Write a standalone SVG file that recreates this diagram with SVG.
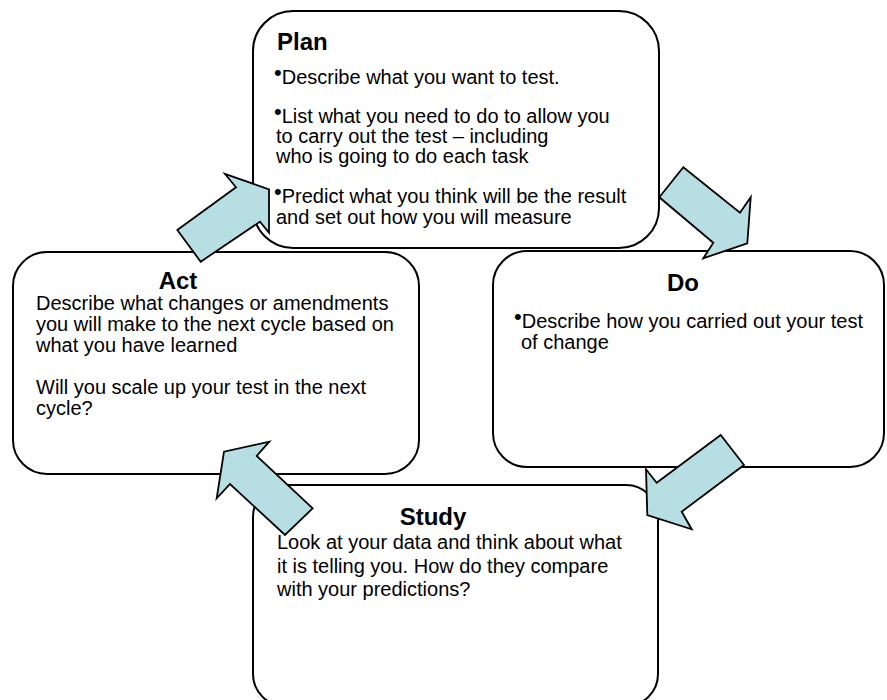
<svg xmlns="http://www.w3.org/2000/svg" width="887" height="700" viewBox="0 0 887 700">
  <style>
    .box { fill: #ffffff; stroke: #000000; stroke-width: 2; }
    .title { font-family: "Liberation Sans", Arial, sans-serif; font-size: 24px; font-weight: bold; fill: #000000; }
    .body { font-family: "Liberation Sans", Arial, sans-serif; font-size: 20px; fill: #000000; }
    .bul { font-size: 22px; }
    .arrow { fill: #b7dee2; stroke: #000000; stroke-width: 1.8; stroke-linejoin: miter; }
  </style>

  <rect width="887" height="700" fill="#ffffff"/>

  <!-- Plan -->
  <g id="plan">
    <rect class="box" x="253" y="11" width="406" height="237" rx="40" ry="40"/>
    <text class="title" x="277" y="50">Plan</text>
    <text class="body" x="274" y="84"><tspan class="bul" dy="-4">•</tspan><tspan dy="4">Describe what you want to test.</tspan></text>
    <text class="body" x="274" y="123"><tspan class="bul" dy="-4">•</tspan><tspan dy="4">List what you need to do to allow you</tspan></text>
    <text class="body" x="276" y="143">to carry out the test – including</text>
    <text class="body" x="276" y="163">who is going to do each task</text>
    <text class="body" x="274" y="203"><tspan class="bul" dy="-4">•</tspan><tspan dy="4">Predict what you think will be the result</tspan></text>
    <text class="body" x="276" y="224">and set out how you will measure</text>
  </g>

  <!-- Act -->
  <g id="act">
    <rect class="box" x="13" y="252" width="406" height="222" rx="34" ry="34"/>
    <text class="title" x="178" y="289" text-anchor="middle">Act</text>
    <text class="body" x="36" y="310">Describe what changes or amendments</text>
    <text class="body" x="36" y="331">you will make to the next cycle based on</text>
    <text class="body" x="36" y="352">what you have learned</text>
    <text class="body" x="36" y="394">Will you scale up your test in the next</text>
    <text class="body" x="36" y="415">cycle?</text>
  </g>

  <!-- Do -->
  <g id="do">
    <rect class="box" x="493" y="251" width="391" height="216" rx="34" ry="34"/>
    <text class="title" x="683" y="291" text-anchor="middle">Do</text>
    <text class="body" x="514" y="328"><tspan class="bul" dy="-4">•</tspan><tspan dy="4">Describe how you carried out your test</tspan></text>
    <text class="body" x="521" y="349">of change</text>
  </g>

  <!-- Study -->
  <g id="study">
    <rect class="box" x="253" y="485" width="405" height="221" rx="32" ry="32"/>
    <text class="title" x="433" y="525" text-anchor="middle">Study</text>
    <text class="body" x="277" y="549">Look at your data and think about what</text>
    <text class="body" x="277" y="573">it is telling you. How do they compare</text>
    <text class="body" x="277" y="596">with your predictions?</text>
  </g>

  <!-- Block arrows linking the stages of the cycle -->
  <g id="connectors">
    <polygon class="arrow" points="177.3,230 236,187.3 225,174 269,189.3 269,232.7 260,221.7 200.7,261.7"/>
    <polygon class="arrow" points="683.3,167.3 740,212.7 750.7,197.3 747.3,243.3 703.3,258.3 713.3,242.7 659.3,197.3"/>
    <polygon class="arrow" points="720.7,435 656.7,482.7 646,469.3 647.3,515 691.7,529.3 681.7,511.7 744,465"/>
    <polygon class="arrow" points="312.7,508.3 256.7,456 269.3,441.7 224,451.7 216.7,498.3 230,484 285,535"/>
  </g>
</svg>
